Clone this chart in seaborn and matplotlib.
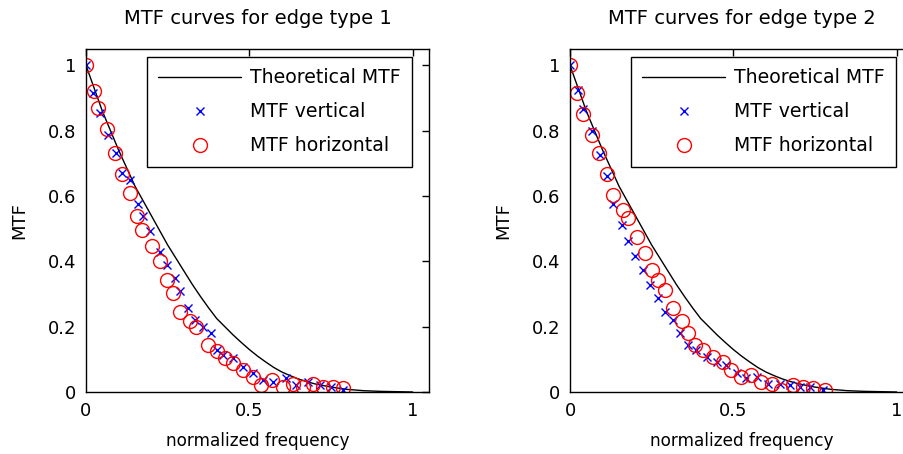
import numpy as np
import pandas as pd
import seaborn as sns
import matplotlib.pyplot as plt

# theoretical MTF (same in both panels)
theo_f = [0, 0.025, 0.05, 0.075, 0.10, 0.125, 0.15, 0.175, 0.20, 0.225, 0.25,
          0.275, 0.30, 0.325, 0.35, 0.375, 0.40, 0.425, 0.45, 0.475, 0.50,
          0.525, 0.55, 0.575, 0.60, 0.625, 0.65, 0.675, 0.70, 0.75, 0.80,
          0.85, 0.90, 0.95, 1.00]
theo_mtf = [1.0, 0.93, 0.86, 0.80, 0.74, 0.685, 0.63, 0.585, 0.54, 0.495, 0.45,
            0.41, 0.37, 0.33, 0.293, 0.258, 0.225, 0.20, 0.175, 0.152, 0.13,
            0.11, 0.092, 0.075, 0.061, 0.05, 0.04, 0.032, 0.025, 0.015, 0.008,
            0.004, 0.002, 0.001, 0.0]

# edge type 1
e1_vert_f = [0, 0.022, 0.043, 0.068, 0.092, 0.109, 0.135, 0.16, 0.175, 0.196,
             0.226, 0.247, 0.272, 0.287, 0.313, 0.333, 0.359, 0.384, 0.40, 0.42,
             0.45, 0.481, 0.512, 0.542, 0.573, 0.613, 0.644, 0.68, 0.716, 0.751, 0.787]
e1_vert_mtf = [1.0, 0.916, 0.855, 0.788, 0.733, 0.671, 0.65, 0.574, 0.538, 0.492,
               0.43, 0.39, 0.349, 0.308, 0.257, 0.221, 0.20, 0.18, 0.129, 0.113,
               0.103, 0.078, 0.057, 0.037, 0.032, 0.042, 0.021, 0.032, 0.021, 0.016, 0.006]
e1_hor_f = [0, 0.024, 0.038, 0.063, 0.089, 0.109, 0.135, 0.155, 0.172, 0.201,
            0.226, 0.247, 0.267, 0.287, 0.318, 0.338, 0.374, 0.40, 0.425, 0.45,
            0.481, 0.512, 0.537, 0.568, 0.603, 0.634, 0.665, 0.695, 0.726, 0.756, 0.787]
e1_hor_mtf = [1.0, 0.921, 0.870, 0.804, 0.732, 0.666, 0.609, 0.538, 0.495, 0.446,
              0.40, 0.344, 0.303, 0.246, 0.216, 0.20, 0.144, 0.124, 0.103, 0.088,
              0.067, 0.047, 0.021, 0.037, 0.016, 0.026, 0.016, 0.026, 0.016, 0.016, 0.011]

# edge type 2
e2_vert_f = [0, 0.025, 0.041, 0.066, 0.092, 0.112, 0.132, 0.158, 0.178, 0.199,
             0.224, 0.245, 0.27, 0.291, 0.316, 0.336, 0.362, 0.387, 0.418, 0.449,
             0.479, 0.51, 0.54, 0.571, 0.606, 0.642, 0.672, 0.703, 0.734, 0.775]
e2_vert_mtf = [1.0, 0.926, 0.865, 0.798, 0.727, 0.66, 0.574, 0.512, 0.461, 0.415,
               0.374, 0.328, 0.287, 0.246, 0.221, 0.18, 0.144, 0.129, 0.108, 0.093,
               0.083, 0.057, 0.042, 0.047, 0.026, 0.026, 0.021, 0.016, 0.016, 0.006]
e2_hor_f = [0, 0.02, 0.041, 0.066, 0.09, 0.112, 0.132, 0.163, 0.178, 0.204,
            0.229, 0.25, 0.27, 0.291, 0.316, 0.342, 0.362, 0.382, 0.408, 0.438,
            0.469, 0.494, 0.525, 0.555, 0.586, 0.617, 0.647, 0.683, 0.713, 0.744, 0.78]
e2_hor_mtf = [1.0, 0.916, 0.85, 0.788, 0.732, 0.666, 0.604, 0.558, 0.533, 0.476,
              0.425, 0.374, 0.344, 0.313, 0.257, 0.216, 0.18, 0.144, 0.129, 0.108,
              0.093, 0.067, 0.047, 0.052, 0.032, 0.026, 0.006, 0.021, 0.016, 0.011, 0.006]

titles = ['MTF curves for edge type 1', 'MTF curves for edge type 2']
panels = [(e1_vert_f, e1_vert_mtf, e1_hor_f, e1_hor_mtf),
          (e2_vert_f, e2_vert_mtf, e2_hor_f, e2_hor_mtf)]

sns.set_style('white')
plt.rcParams['font.family'] = ['DejaVu Sans']
plt.rcParams['text.color'] = 'black'
plt.rcParams['axes.labelcolor'] = 'black'
plt.rcParams['xtick.color'] = 'black'
plt.rcParams['ytick.color'] = 'black'
fs = 13

fig = plt.figure(figsize=(9.04, 4.54), dpi=100)
lefts = [86 / 904, 570 / 904]
w = 343 / 904
b = 62 / 454
h = 343 / 454

for i in range(2):
    ax = fig.add_axes([lefts[i], b, w, h])
    vf, vm, hf, hm = panels[i]
    sns.lineplot(x=theo_f, y=theo_mtf, color='black', linewidth=1,
                 label='Theoretical MTF', ax=ax)
    sns.lineplot(x=vf, y=vm, color='blue', linestyle='', marker='x', markersize=6,
                 markeredgecolor='blue', markeredgewidth=1, label='MTF vertical', ax=ax)
    sns.lineplot(x=hf, y=hm, color='red', linestyle='', marker='o', markersize=10,
                 markerfacecolor='none', markeredgecolor='red', markeredgewidth=1,
                 label='MTF horizontal', ax=ax)
    ax.set_xlim(0, 1.05)
    ax.set_ylim(0, 1.05)
    ax.set_xticks([0, 0.5, 1])
    ax.set_xticklabels(['0', '0.5', '1'])
    ax.set_yticks([0, 0.2, 0.4, 0.6, 0.8, 1])
    ax.set_yticklabels(['0', '0.2', '0.4', '0.6', '0.8', '1'])
    ax.tick_params(direction='in', top=True, right=True, length=5, width=1,
                   color='black', labelcolor='black', labelsize=fs, pad=7)
    for s in ax.spines.values():
        s.set_color('black')
        s.set_linewidth(1)
    ax.set_title(titles[i], fontsize=14, pad=18, color='black')
    ax.set_xlabel('normalized frequency', fontsize=12.2, labelpad=9, color='black')
    ax.set_ylabel('MTF', fontsize=fs, labelpad=14, color='black')
    leg = ax.legend(loc='upper right', bbox_to_anchor=(0.950, 0.977), borderaxespad=0,
                    fontsize=13.6, handlelength=4.4, handletextpad=0.45, borderpad=0.6,
                    labelspacing=0.8, frameon=True, fancybox=False,
                    edgecolor='black', framealpha=1)
    leg.get_frame().set_linewidth(1)
    for t in leg.get_texts():
        t.set_color('black')

fig.savefig('out.png', dpi=100)
